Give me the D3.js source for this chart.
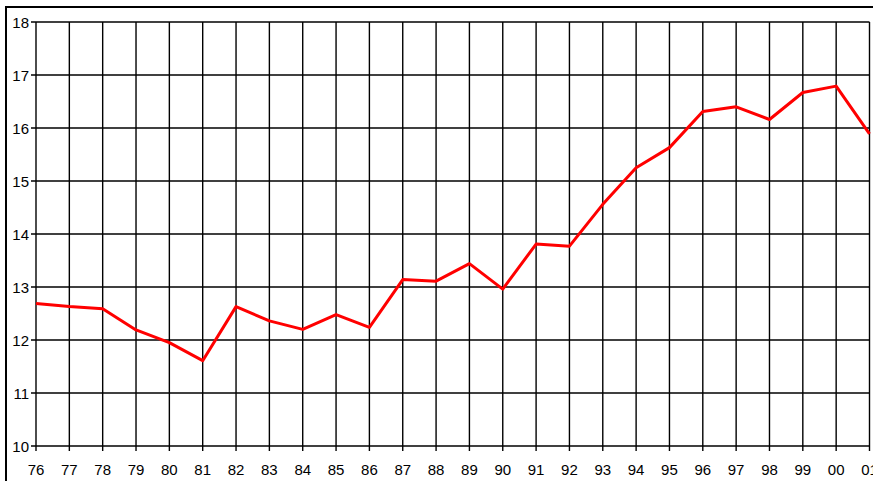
<!DOCTYPE html>
<html>
<head>
<meta charset="utf-8">
<script src="https://cdn.jsdelivr.net/npm/d3@7"></script>
<style>
  body { margin: 0; background: #fff; }
  svg text { font-family: Arial, "Liberation Sans", sans-serif; font-size: 15px; fill: #000; }
</style>
</head>
<body>
<svg id="svg" width="873" height="481"></svg>
<script>
var years = ["76","77","78","79","80","81","82","83","84","85","86","87","88","89","90","91","92","93","94","95","96","97","98","99","00","01"];
var values = [12.69,12.63,12.59,12.19,11.95,11.61,12.63,12.36,12.20,12.48,12.24,13.14,13.11,13.44,12.96,13.81,13.77,14.56,15.25,15.63,16.31,16.40,16.16,16.67,16.79,15.89];
var yTicks = [10,11,12,13,14,15,16,17,18];

var svg = d3.select("#svg");
// plot box (window.top is reserved, so use own names)
var plotL = 36, plotR = 869.5, plotT = 22, plotB = 446;

// outer frame
svg.append("path")
    .attr("d", "M6,481V7H873")
    .attr("fill", "none")
    .attr("stroke", "#000")
    .attr("stroke-width", 2);

var x = d3.scalePoint().domain(years).range([plotL, plotR]);
var y = d3.scaleLinear().domain([10, 18]).range([plotB, plotT]);

// grid
svg.append("g").selectAll("line").data(years).enter().append("line")
    .attr("x1", function(d){ return x(d); })
    .attr("x2", function(d){ return x(d); })
    .attr("y1", plotT).attr("y2", plotB + 5)
    .attr("stroke", "#000").attr("stroke-width", 1.4);

svg.append("g").selectAll("line").data(yTicks).enter().append("line")
    .attr("x1", plotL - 5).attr("x2", plotR)
    .attr("y1", function(d){ return y(d); })
    .attr("y2", function(d){ return y(d); })
    .attr("stroke", "#000").attr("stroke-width", 1.4);

// tick labels
svg.append("g").selectAll("text").data(yTicks).enter().append("text")
    .attr("x", 29)
    .attr("y", function(d){ return y(d) + 5.5; })
    .attr("text-anchor", "end")
    .text(function(d){ return d; });

svg.append("g").selectAll("text").data(years).enter().append("text")
    .attr("x", function(d){ return x(d); })
    .attr("y", 475)
    .attr("text-anchor", "middle")
    .text(function(d){ return d; });

// series
var line = d3.line()
    .x(function(d, i){ return x(years[i]); })
    .y(function(d){ return y(d); });

svg.append("path")
    .datum(values)
    .attr("d", line)
    .attr("fill", "none")
    .attr("stroke", "#ff0000")
    .attr("stroke-width", 3)
    .attr("stroke-linejoin", "round");
</script>
</body>
</html>
